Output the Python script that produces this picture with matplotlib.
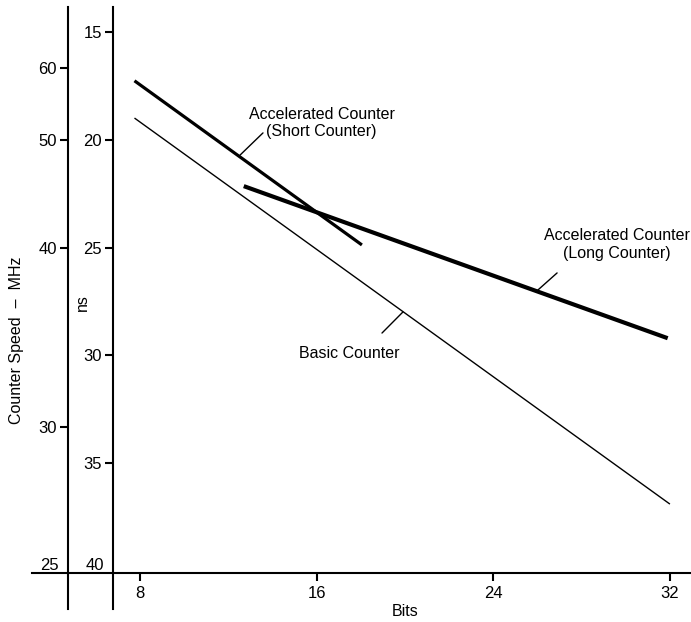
import numpy as np
import matplotlib
matplotlib.use("Agg")
import matplotlib.pyplot as plt
import matplotlib.transforms as mtrans

plt.rcParams['font.family'] = ['Liberation Sans', 'DejaVu Sans']

# data (x in bits, y in ns)
basic_bits = [7.75, 32.0]
basic_ns = [18.98, 36.9]
short_bits = [7.75, 18.05]
short_ns = [17.25, 24.87]
long_bits = [12.7, 31.9]
long_ns = [22.14, 29.2]

bit_ticks = [8, 16, 24, 32]
ns_ticks = [15, 20, 25, 30, 35]
mhz_ticks = [60, 50, 40, 30]

# labels: text, text position, point on line, leader end
labels = [
    ("Accelerated Counter\n(Short Counter)", (16.22, 19.21), (12.53, 20.70), (13.57, 19.67)),
    ("Accelerated Counter\n(Long Counter)", (29.6, 24.85), (25.98, 27.0), (26.89, 26.17)),
    ("Basic Counter", (17.47, 29.93), (19.91, 27.98), (18.96, 28.96)),
]

W, H = 691, 622
fig = plt.figure(figsize=(W / 100, H / 100), dpi=100)
ax = fig.add_axes([113 / W, (H - 609) / H, (W - 113) / W, (609 - 7) / H])

ax.plot(basic_bits, basic_ns, color='black', lw=1.0, solid_capstyle='butt')
ax.plot(short_bits, short_ns, color='black', lw=2.3, solid_capstyle='butt')
ax.plot(long_bits, long_ns, color='black', lw=3.0, solid_capstyle='butt')

for txt, tpos, p_line, p_end in labels:
    ax.annotate('', xy=p_line, xytext=p_end,
                arrowprops=dict(arrowstyle='-', color='black', lw=1.0,
                                shrinkA=0, shrinkB=0))
    ax.text(tpos[0], tpos[1], txt, ha='center', va='center',
            multialignment='center', fontsize=11.5, clip_on=False)

ax.set_xlim(6.777, 32.955)
ax.set_ylim(41.77, 13.825)

ax.spines['top'].set_visible(False)
ax.spines['right'].set_visible(False)
ax.spines['bottom'].set_position(('data', 40.1))
ax.spines['left'].set_linewidth(1.5)
ax.spines['bottom'].set_linewidth(1.5)

ax.set_xticks(bit_ticks)
ax.set_yticks(ns_ticks)
ax.tick_params(axis='x', direction='out', length=6, width=1.5, labelsize=12, pad=3)
ax.tick_params(axis='y', direction='out', length=6, width=1.5, labelsize=12, pad=2)

# extend the bottom line to the left past both vertical axes
blend = mtrans.blended_transform_factory(ax.transAxes, ax.transData)
ax.plot([-0.14, 0], [40.1, 40.1], color='black', lw=1.5, transform=blend, clip_on=False)

# MHz axis: frequency = 1000 / period
def inv(v):
    v = np.asarray(v, dtype=float)
    with np.errstate(divide='ignore'):
        return 1000.0 / v

sec = ax.secondary_yaxis(-0.0779, functions=(inv, inv))
sec.set_yticks(mhz_ticks)
sec.tick_params(axis='y', direction='out', length=6, width=1.5, labelsize=12, pad=2)
sec.spines['left'].set_linewidth(1.5)

ax.text(-0.1107, 40.1, '25', transform=blend, ha='center', va='bottom', fontsize=12)
ax.text(-0.031, 40.1, '40', transform=blend, ha='center', va='bottom', fontsize=12)

fig.text(17 / W, 1 - 340 / H, 'Counter Speed  \u2013  MHz', rotation=90,
         ha='center', va='center', fontsize=11.5)
fig.text(82 / W, 1 - 303 / H, 'ns', rotation=90, ha='center', va='center', fontsize=11.5)
fig.text(405 / W, 1 - 612 / H, 'Bits', ha='center', va='center', fontsize=11.5)

fig.savefig('out.png', dpi=100)
